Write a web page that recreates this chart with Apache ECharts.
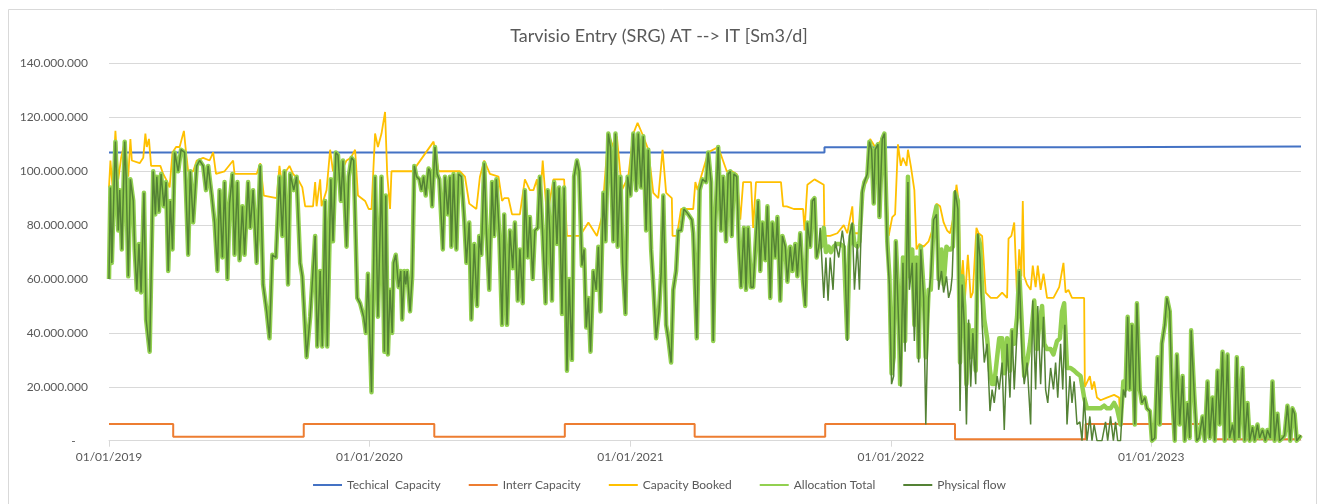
<!DOCTYPE html>
<html>
<head>
<meta charset="utf-8">
<script src="https://cdn.jsdelivr.net/npm/echarts@6/dist/echarts.min.js"></script>
<style>
  html, body { margin: 0; padding: 0; background: #fff; }
  #chart { width: 1318px; height: 504px; }
</style>
</head>
<body>
<div id="chart"></div>
<script>
// day offsets from 01/01/2019, values in millions of Sm3/d
var START = Date.UTC(2019, 0, 1);
var tickYears = [2019, 2020, 2021, 2022, 2023];
var seriesNames = ['Techical  Capacity', 'Interr Capacity', 'Capacity Booked', 'Allocation Total', 'Physical flow'];

var techCapacity = [[0, 107], [1003, 108.9], [1368, 109.2], [1671, 109.2]];

var interrCapacity = [[0, 6.2], [90, 1.5], [273, 6.2], [456, 1.5], [639, 6.2], [821, 1.5], [1004, 6.2],
  [1186, 0.5], [1369, 6.2], [1551, 0.5], [1671, 0.5]];

var allocationTotal = [
  [0,60],[2,94],[4,66],[9,111],[13,78],[15,93],[18,71],[22,111],[24,98],[27,61],[30,97],[34,89],[36,71],[39,56],[42,73],[45,55],[49,92],[52,45],[57,33],[62,100],
  [65,84],[67,98],[70,85],[73,99],[77,87],[80,96],[83,63],[86,89],[89,71],[92,107],[97,100],[101,108],[106,107],[111,69],[114,100],[118,81],[123,102],[127,104],[132,102],[136,93],
  [139,102],[144,91],[148,81],[152,63],[155,93],[159,68],[162,96],[166,60],[169,88],[173,99],[176,69],[180,96],[183,67],[187,87],[190,69],[195,96],[198,79],[202,93],[207,66],[212,102],
  [216,58],[221,48],[225,38],[229,69],[234,68],[239,98],[243,76],[246,100],[251,58],[254,99],[259,93],[263,98],[268,66],[271,61],[277,31],[282,46],[289,76],[292,35],[296,63],[299,35],
  [303,89],[306,35],[311,97],[314,74],[318,107],[321,106],[325,89],[328,104],[333,72],[336,98],[340,105],[343,104],[348,53],[352,51],[357,46],[360,40],[363,62],[368,18],[373,98],[377,46],
  [382,98],[386,33],[388,91],[391,32],[394,56],[397,40],[399,66],[402,69],[406,57],[409,63],[411,45],[414,63],[416,58],[418,63],[422,48],[425,61],[428,102],[431,98],[435,97],[438,93],
  [441,98],[444,91],[448,101],[450,100],[453,87],[457,109],[460,99],[463,97],[468,71],[471,98],[475,84],[478,98],[480,72],[483,99],[487,71],[490,99],[494,98],[498,82],[501,66],[505,81],
  [508,45],[512,73],[516,50],[519,76],[522,69],[526,103],[529,78],[533,56],[537,96],[540,76],[543,97],[547,77],[551,43],[554,84],[558,43],[562,78],[566,64],[569,81],[573,52],[576,71],
  [580,51],[583,93],[587,68],[590,83],[594,60],[597,78],[601,79],[604,98],[608,76],[612,51],[615,93],[618,77],[621,52],[624,96],[628,73],[631,94],[635,47],[638,94],[642,26],[645,60],
  [649,30],[652,98],[656,104],[659,100],[663,65],[666,71],[669,42],[672,53],[675,33],[679,63],[683,56],[686,72],[689,48],[693,92],[696,74],[700,114],[703,109],[707,74],[710,114],[713,72],
  [717,98],[720,66],[724,47],[727,98],[731,91],[735,114],[739,93],[742,114],[746,94],[749,113],[753,78],[756,108],[760,71],[763,58],[767,38],[771,48],[774,62],[777,91],[781,43],[784,38],
  [788,29],[791,56],[795,63],[798,78],[802,78],[806,86],[812,84],[817,82],[819,77],[824,38],[828,93],[832,97],[837,96],[840,107],[844,96],[847,37],[850,81],[854,109],[858,78],[861,98],
  [865,74],[868,99],[871,100],[873,76],[876,99],[880,98],[883,72],[886,57],[890,79],[893,56],[896,79],[900,57],[903,57],[907,76],[910,89],[913,63],[916,81],[920,67],[923,87],[927,53],
  [930,81],[934,68],[937,83],[941,52],[944,76],[948,72],[951,59],[955,72],[958,63],[962,73],[965,61],[969,77],[973,59],[976,50],[979,81],[983,72],[986,89],[989,90],[992,68],[995,72],
  [998,72],[1002,79],[1005,70],[1009,72],[1012,70],[1016,72],[1020,73],[1025,73],[1030,72],[1035,38],[1038,72],[1042,80],[1045,73],[1049,72],[1052,74],[1056,92],[1059,96],[1063,98],[1066,111],[1069,108],
  [1072,88],[1074,108],[1078,110],[1080,83],[1084,112],[1087,114],[1091,74],[1094,61],[1097,25],[1100,31],[1103,74],[1107,50],[1109,21],[1113,68],[1116,37],[1120,98],[1122,61],[1126,71],[1129,43],[1132,68],
  [1135,31],[1138,72],[1142,56],[1145,31],[1149,56],[1152,56],[1156,82],[1160,87],[1163,60],[1167,71],[1170,58],[1174,72],[1177,71],[1180,71],[1183,72],[1186,92],[1190,89],[1193,29],[1196,61],[1199,50],
  [1202,21],[1205,43],[1208,31],[1211,41],[1215,26],[1218,76],[1221,73],[1224,56],[1227,45],[1231,38],[1235,26],[1238,21],[1241,21],[1245,31],[1248,38],[1252,38],[1255,25],[1259,38],[1263,26],[1266,41],
  [1269,36],[1273,46],[1276,63],[1280,41],[1283,24],[1287,29],[1291,36],[1294,43],[1297,52],[1301,34],[1304,43],[1308,50],[1311,36],[1315,34],[1320,34],[1324,32],[1329,37],[1333,38],[1336,48],[1339,51],
  [1343,27],[1348,27],[1353,26],[1357,25],[1362,24],[1367,16],[1371,12],[1376,12],[1381,12],[1385,12],[1390,12],[1395,13],[1399,12],[1404,12],[1409,14],[1413,12],[1418,6],[1422,22],[1425,19],[1428,46],
  [1431,19],[1434,43],[1438,6],[1441,51],[1445,19],[1448,14],[1452,16],[1455,12],[1459,11],[1462,0],[1466,1],[1470,31],[1473,6],[1476,36],[1480,43],[1483,53],[1487,48],[1490,19],[1494,0],[1497,32],
  [1501,6],[1505,24],[1508,0],[1512,14],[1515,1],[1517,41],[1521,19],[1525,0],[1528,1],[1533,9],[1536,0],[1540,22],[1543,1],[1547,16],[1550,0],[1554,26],[1557,6],[1561,33],[1564,0],[1568,32],
  [1571,1],[1575,6],[1578,0],[1581,31],[1584,1],[1589,27],[1592,0],[1596,14],[1599,0],[1603,5],[1606,0],[1610,6],[1613,1],[1617,4],[1621,0],[1624,4],[1628,1],[1631,22],[1634,0],[1638,10],
  [1641,0],[1645,1],[1648,2],[1652,13],[1656,0],[1659,12],[1662,10],[1665,0],[1668,1],[1671,2]
];

// physical flow where it visibly departs from the allocation (Oct 2021 - Dec 2022)
var physicalFlowDiff = [
  [997,79],[1002,53],[1005,68],[1008,52],[1011,68],[1015,56],[1018,74],[1023,68],[1028,78],[1031,72],[1035,37],[1038,76],[1042,81],[1045,56],[1049,73],[1052,56],[1056,93],[1059,96],[1063,99],[1066,111],
  [1069,108],[1072,88],[1074,108],[1078,110],[1080,83],[1084,112],[1087,114],[1091,71],[1094,58],[1097,21],[1100,24],[1103,74],[1107,43],[1110,20],[1113,66],[1116,33],[1120,96],[1122,56],[1126,66],[1129,37],
  [1132,66],[1135,29],[1138,71],[1142,53],[1145,6],[1149,53],[1152,61],[1156,82],[1160,84],[1163,56],[1167,63],[1170,55],[1174,61],[1177,53],[1180,56],[1182,61],[1186,93],[1190,86],[1193,11],[1196,58],
  [1199,43],[1202,6],[1205,45],[1208,20],[1211,40],[1215,21],[1218,77],[1221,68],[1224,43],[1227,29],[1231,36],[1235,11],[1238,19],[1241,14],[1245,24],[1248,19],[1252,29],[1255,4],[1259,36],[1263,16],
  [1266,41],[1269,19],[1273,41],[1276,63],[1280,31],[1283,21],[1287,29],[1292,6],[1295,52],[1299,19],[1302,50],[1306,21],[1310,46],[1313,19],[1316,14],[1320,27],[1324,19],[1327,29],[1330,16],[1334,36],
  [1337,19],[1340,43],[1343,6],[1347,24],[1350,14],[1353,22],[1357,6],[1361,7],[1364,0],[1367,16],[1371,0],[1375,9],[1378,0],[1381,6],[1385,0],[1392,0],[1397,7],[1400,0],[1404,9],[1408,0],
  [1411,7],[1414,0],[1418,0],[1422,19],[1425,16]
];

// capacity booked up to Nov 2022; afterwards it runs with the allocation
var capacityBooked = [
  [0,94],[2,104],[5,94],[9,115],[13,97],[17,105],[22,111],[27,98],[30,112],[32,104],[43,103],[48,105],[51,114],[53,109],[56,112],[59,102],[72,102],[76,99],[80,97],[85,94],
  [89,107],[94,109],[99,109],[105,115],[108,107],[111,100],[118,100],[123,104],[132,105],[141,104],[146,107],[150,99],[162,100],[174,104],[176,99],[207,99],[212,103],[217,91],[235,90],[239,102],
  [243,94],[248,100],[253,102],[258,99],[265,97],[271,94],[275,87],[286,87],[289,96],[291,87],[296,97],[298,87],[305,93],[310,108],[314,100],[319,105],[326,100],[333,104],[339,105],[345,108],
  [349,91],[359,89],[364,86],[368,86],[373,114],[377,109],[382,114],[387,122],[390,99],[394,86],[396,100],[427,100],[431,102],[455,111],[462,100],[492,100],[499,98],[505,88],[515,86],[520,98],
  [526,104],[534,99],[546,98],[551,89],[554,90],[560,90],[565,84],[576,84],[583,97],[590,93],[595,93],[600,97],[603,83],[608,104],[614,83],[623,97],[632,97],[638,97],[642,76],[660,76],
  [672,81],[684,76],[691,83],[700,114],[707,109],[712,113],[719,93],[728,98],[735,114],[741,118],[749,113],[756,108],[763,92],[770,90],[776,108],[781,92],[789,90],[790,76],[796,76],[802,86],
  [819,86],[822,96],[825,93],[829,97],[840,107],[854,109],[866,100],[873,100],[880,99],[885,82],[889,96],[900,96],[903,79],[907,96],[918,96],[942,96],[945,87],[950,87],[960,86],[973,86],
  [975,78],[979,95],[989,97],[1002,95],[1003,76],[1011,76],[1021,77],[1030,80],[1035,77],[1042,87],[1044,77],[1051,77],[1056,94],[1062,96],[1067,112],[1074,109],[1081,111],[1087,114],[1091,86],[1093,76],
  [1098,83],[1102,84],[1106,110],[1110,102],[1113,105],[1118,102],[1120,108],[1124,102],[1129,93],[1132,71],[1136,73],[1142,72],[1149,74],[1154,78],[1160,88],[1165,87],[1170,81],[1175,78],[1179,77],[1183,82],
  [1188,95],[1191,89],[1194,56],[1197,67],[1200,53],[1204,69],[1208,53],[1211,55],[1216,79],[1219,77],[1224,76],[1229,55],[1236,53],[1245,53],[1252,55],[1259,53],[1261,75],[1265,76],[1269,81],[1273,53],
  [1276,71],[1279,61],[1281,89],[1283,61],[1287,58],[1292,56],[1295,65],[1299,57],[1302,65],[1306,56],[1310,62],[1315,53],[1324,53],[1332,57],[1338,66],[1341,55],[1345,56],[1350,53],[1367,53],[1368,20],
  [1375,24],[1378,19],[1381,22],[1385,16],[1390,15],[1399,16],[1409,17],[1416,16]
];

var physicalFlow = allocationTotal.filter(function(p) { return p[0] < 997; })
  .concat(physicalFlowDiff)
  .concat(allocationTotal.filter(function(p) { return p[0] >= 1428; }));
var bookedFull = capacityBooked.concat(allocationTotal.filter(function(p) { return p[0] > 1416; }));

function toSeries(arr) {
  return arr.map(function(p) { return [p[0], p[1] * 1e6]; });
}

function dayOf(y) {
  return Math.round((Date.UTC(y, 0, 1) - START) / 86400000);
}
var tickDays = tickYears.map(dayOf);

function fmtThousands(v) {
  if (v === 0) return '-    ';
  return String(Math.round(v)).replace(/\B(?=(\d{3})+(?!\d))/g, '.');
}

var FONT = 'Lato, "Open Sans", sans-serif';
var myChart = echarts.init(document.getElementById('chart'));

var option = {
  backgroundColor: '#ffffff',
  animation: false,
  title: {
    text: 'Tarvisio Entry (SRG) AT --> IT [Sm3/d]',
    left: 'center',
    top: 27,
    padding: 0,
    textStyle: { fontFamily: FONT, fontSize: 18, fontWeight: 'normal', color: '#595959' }
  },
  graphic: [{
    type: 'rect',
    shape: { x: 8.5, y: 9.5, width: 1308, height: 520 },
    style: { fill: 'none', stroke: '#D9D9D9', lineWidth: 1 },
    silent: true
  }],
  legend: {
    data: seriesNames,
    bottom: 8,
    left: 'center',
    itemWidth: 29,
    itemHeight: 10,
    itemGap: 27,
    itemStyle: { opacity: 0 },
    textStyle: { fontFamily: FONT, fontSize: 12, color: '#595959' }
  },
  grid: { left: 109, right: 17, top: 63.5, bottom: 63.3 },
  xAxis: {
    type: 'value',
    min: 0,
    max: 1671,
    splitLine: { show: false },
    axisLine: { lineStyle: { color: '#D9D9D9' } },
    axisTick: { show: true, length: 6, customValues: tickDays, lineStyle: { color: '#D9D9D9' } },
    axisLabel: {
      customValues: tickDays,
      margin: 10,
      fontFamily: FONT, fontSize: 12, color: '#595959',
      formatter: function(v) {
        var d = new Date(START + Math.round(v) * 86400000);
        return '01/01/' + d.getUTCFullYear();
      }
    }
  },
  yAxis: {
    type: 'value',
    min: 0,
    max: 140e6,
    interval: 20e6,
    axisLine: { show: false },
    axisTick: { show: false },
    splitLine: { lineStyle: { color: '#D9D9D9', width: 1 } },
    axisLabel: { margin: 21, fontFamily: FONT, fontSize: 12, color: '#595959', formatter: fmtThousands }
  },
  series: [{
    name: seriesNames[0],
    type: 'line',
    step: 'end',
    showSymbol: false,
    symbol: 'none',
    data: toSeries(techCapacity),
    lineStyle: { color: '#4472C4', width: 2 },
    itemStyle: { color: '#4472C4' }
  }, {
    name: seriesNames[1],
    type: 'line',
    step: 'end',
    showSymbol: false,
    symbol: 'none',
    data: toSeries(interrCapacity),
    lineStyle: { color: '#ED7D31', width: 2 },
    itemStyle: { color: '#ED7D31' }
  }, {
    name: seriesNames[2],
    type: 'line',
    showSymbol: false,
    symbol: 'none',
    data: toSeries(bookedFull),
    lineStyle: { color: '#FFC000', width: 1.8 },
    itemStyle: { color: '#FFC000' }
  }, {
    name: seriesNames[3],
    type: 'line',
    showSymbol: false,
    symbol: 'none',
    data: toSeries(allocationTotal),
    lineStyle: { color: '#92D050', width: 4.5, join: 'round' },
    itemStyle: { color: '#92D050' }
  }, {
    name: seriesNames[4],
    type: 'line',
    showSymbol: false,
    symbol: 'none',
    data: toSeries(physicalFlow),
    lineStyle: { color: '#548235', width: 1.5 },
    itemStyle: { color: '#548235' }
  }]
};

myChart.setOption(option);
</script>
</body>
</html>
